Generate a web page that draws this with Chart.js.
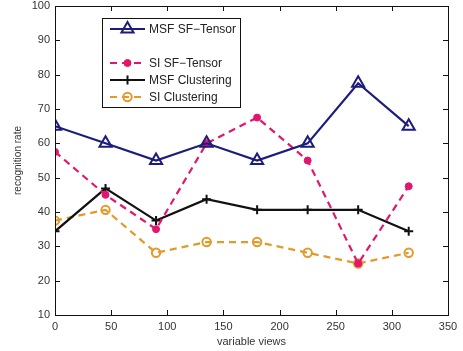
<!DOCTYPE html>
<html><head><meta charset="utf-8">
<script src="https://cdn.jsdelivr.net/npm/chart.js@4/dist/chart.umd.min.js"></script>
<style>html,body{margin:0;padding:0;background:#fff}#wrap{width:463px;height:351px}</style>
</head><body><div id="wrap"><canvas id="c" width="463" height="351"></canvas></div>
<script>
const views = [0, 45, 90, 135, 180, 225, 270, 315];
const msfTensor = [65, 60, 55, 60, 55, 60, 77.5, 65];
const siTensor = [57.5, 45, 35, 60, 67.5, 55, 25, 47.5];
const msfCluster = [34.375, 46.875, 37.5, 43.75, 40.625, 40.625, 40.625, 34.375];
const siCluster = [37.5, 40.625, 28.125, 31.25, 31.25, 28.125, 25, 28.125];
const xTicks = [0, 50, 100, 150, 200, 250, 300, 350];
const yTicks = [10, 20, 30, 40, 50, 60, 70, 80, 90, 100];
const names = ['MSF SF\u2212Tensor', 'SI SF\u2212Tensor', 'MSF Clustering', 'SI Clustering'];

const pts = arr => arr.map((v, i) => ({x: views[i], y: v}));
const FONT = '"Liberation Sans", Arial, sans-serif';

const datasets = [
  {label: names[0], data: pts(msfTensor), borderColor: '#1c1c7c', backgroundColor: '#ffffff',
   borderWidth: 2.2, pointStyle: 'triangle', pointRadius: 7, pointBorderWidth: 2, pointBorderColor: '#1c1c7c', pointBackgroundColor: 'rgba(255,255,255,0)'},
  {label: names[1], data: pts(siTensor), borderColor: '#e2166e', backgroundColor: '#e2166e',
   borderWidth: 2.2, borderDash: [7, 5], pointStyle: 'circle', pointRadius: 3.5, pointBorderWidth: 1, pointBackgroundColor: '#e2166e'},
  {label: names[2], data: pts(msfCluster), borderColor: '#111111', backgroundColor: '#111111',
   borderWidth: 2.2, pointStyle: 'cross', pointRadius: 4.5, pointBorderWidth: 2},
  {label: names[3], data: pts(siCluster), borderColor: '#e39a2a', backgroundColor: 'rgba(255,255,255,0)',
   borderWidth: 2.2, borderDash: [7, 5], pointStyle: 'circle', pointRadius: 4.2, pointBorderWidth: 2, pointBackgroundColor: 'rgba(255,255,255,0)'}
];

const frame = {
  id: 'frame',
  afterDraw(chart) {
    const {ctx, chartArea: a, scales: {x, y}} = chart;
    ctx.save();
    ctx.strokeStyle = '#111'; ctx.lineWidth = 1;
    ctx.strokeRect(a.left + 0.5, a.top + 0.5, a.right - a.left, a.bottom - a.top);
    ctx.beginPath();
    xTicks.forEach(t => { const px = Math.round(x.getPixelForValue(t)) + 0.5;
      ctx.moveTo(px, a.bottom); ctx.lineTo(px, a.bottom - 5);
      ctx.moveTo(px, a.top); ctx.lineTo(px, a.top + 5); });
    yTicks.forEach(t => { const py = Math.round(y.getPixelForValue(t)) + 0.5;
      ctx.moveTo(a.left, py); ctx.lineTo(a.left + 5, py);
      ctx.moveTo(a.right, py); ctx.lineTo(a.right - 5, py); });
    ctx.stroke();
    // legend
    const bx = 102.5, by = 18.5, bw = 138, bh = 89;
    ctx.fillStyle = '#fff'; ctx.fillRect(bx, by, bw, bh);
    ctx.strokeRect(bx, by, bw, bh);
    const rows = [29, 63, 80, 97];
    ctx.font = '12px ' + FONT; ctx.textBaseline = 'middle'; ctx.textAlign = 'left';
    chart.data.datasets.forEach((ds, i) => {
      const yy = rows[i];
      ctx.save();
      ctx.strokeStyle = ds.borderColor; ctx.lineWidth = ds.borderWidth;
      ctx.setLineDash(ds.borderDash || []);
      ctx.beginPath(); ctx.moveTo(110, yy); ctx.lineTo(145, yy); ctx.stroke();
      ctx.setLineDash([]);
      ctx.fillStyle = ds.pointBackgroundColor || ds.backgroundColor;
      ctx.strokeStyle = ds.pointBorderColor || ds.borderColor;
      ctx.lineWidth = ds.pointBorderWidth;
      Chart.helpers.drawPoint(ctx, {pointStyle: ds.pointStyle, radius: ds.pointRadius, borderWidth: ds.pointBorderWidth}, 127.5, yy);
      ctx.restore();
      ctx.fillStyle = '#222';
      ctx.fillText(ds.label, 149, yy + 0.5);
    });
    ctx.restore();
  }
};

const zeroPad = s => { s.getPadding = () => ({left: 0, right: 0, top: 0, bottom: 0}); };

new Chart(document.getElementById('c'), {
  type: 'line',
  data: {datasets},
  options: {
    responsive: false, animation: false,
    layout: {autoPadding: false, padding: {left: 0, right: 15, top: 6, bottom: 0}},
    plugins: {legend: {display: false}, tooltip: {enabled: false}},
    scales: {
      x: {type: 'linear', min: 0, max: 350,
        afterBuildTicks: s => { s.ticks = xTicks.map(v => ({value: v})); },
        afterFit: s => { s.height = 36; zeroPad(s); },
        grid: {display: false, drawTicks: false}, border: {display: false},
        ticks: {color: '#333', font: {family: FONT, size: 11}, padding: 5, maxRotation: 0},
        title: {display: true, text: 'variable views', color: '#333', font: {family: FONT, size: 11}, padding: {top: 0, bottom: 2}}},
      y: {type: 'linear', min: 10, max: 100,
        afterBuildTicks: s => { s.ticks = yTicks.map(v => ({value: v})); },
        afterFit: s => { s.width = 55; zeroPad(s); },
        grid: {display: false, drawTicks: false}, border: {display: false},
        ticks: {color: '#333', font: {family: FONT, size: 11}, padding: 5},
        title: {display: true, text: 'recognition rate', color: '#333', font: {family: FONT, size: 10}, padding: {top: 12, bottom: 0}}}
    }
  },
  plugins: [frame]
});
</script></body></html>
